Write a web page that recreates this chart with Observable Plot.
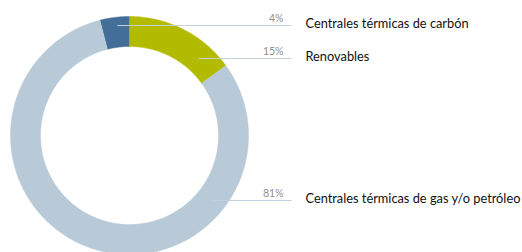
<!DOCTYPE html>
<html>
<head>
<meta charset="utf-8">
<script src="https://cdn.jsdelivr.net/npm/d3@7"></script>
<script src="https://cdn.jsdelivr.net/npm/@observablehq/plot@0.6"></script>
<style>
  html, body { margin: 0; padding: 0; background: #fff; }
  #chart { width: 522px; height: 252px; overflow: hidden; }
</style>
</head>
<body>
<div id="chart"></div>
<script>
// ---- Data ----
const categories = ["Centrales térmicas de carbón", "Renovables", "Centrales térmicas de gas y/o petróleo"];
const values = [4, 15, 81];
const percentLabels = ["4%", "15%", "81%"];

// ---- Layout (pixels) ----
const W = 522, H = 252;
const cx = 129, cy = 135, R = 119;      // centre and outer radius in px
const innerRatio = 89 / 119;
const rowY = [25, 58, 200];             // leader-line rows in px
const lineStartR = [0.93, 0.87, 0.87];  // where leader lines begin (fraction of R)
const lineEndX = 291, pctX = 283, labelX = 305;
const colors = ["#436e97", "#b3bb00", "#b8c9d7"];

// data units: centre at 0, outer radius 1, y up
const toDX = px => (px - cx) / R;
const toDY = py => (cy - py) / R;

const total = d3.sum(values);
let start = -values[0] / total * 2 * Math.PI;
const arcs = [];
categories.forEach((name, i) => {
  const a0 = start, a1 = start + values[i] / total * 2 * Math.PI;
  start = a1;
  const n = Math.max(4, Math.ceil((a1 - a0) / (Math.PI / 360)));
  const pts = [];
  for (let k = 0; k <= n; k++) {
    const a = a0 + (a1 - a0) * k / n;
    pts.push({name, x: Math.sin(a), y: Math.cos(a)});
  }
  for (let k = n; k >= 0; k--) {
    const a = a0 + (a1 - a0) * k / n;
    pts.push({name, x: innerRatio * Math.sin(a), y: innerRatio * Math.cos(a)});
  }
  arcs.push(...pts);
});

const rows = categories.map((name, i) => {
  const y = toDY(rowY[i]);
  const r = lineStartR[i];
  const sign = i === 0 ? -1 : 1;
  const x0 = sign * Math.sqrt(Math.max(0, r * r - y * y));
  return {name, pct: percentLabels[i], y, x0, x1: toDX(lineEndX)};
});

const chart = Plot.plot({
  width: W,
  height: H,
  margin: 0,
  x: {domain: [toDX(0), toDX(W)], range: [0, W], axis: null},
  y: {domain: [toDY(H), toDY(0)], range: [H, 0], axis: null},
  color: {domain: categories, range: colors},
  style: {background: "#fff"},
  marks: [
    Plot.line(arcs, {x: "x", y: "y", z: "name", fill: "name", stroke: "name", strokeWidth: 0.5, curve: "linear"}),
    Plot.link(rows, {x1: "x0", y1: "y", x2: "x1", y2: "y", stroke: "#c3d1de", strokeWidth: 1}),
    Plot.text(rows, {x: toDX(pctX), y: "y", text: "pct", textAnchor: "end", dy: -7, fill: "#8f8f8f", fontSize: 10.5, fontFamily: "Lato"}),
    Plot.text(rows, {x: toDX(labelX), y: "y", text: "name", textAnchor: "start", dy: -2, fill: "#111", fontSize: 12.8, fontFamily: "Lato"})
  ]
});
document.getElementById("chart").appendChild(chart);
</script>
</body>
</html>
